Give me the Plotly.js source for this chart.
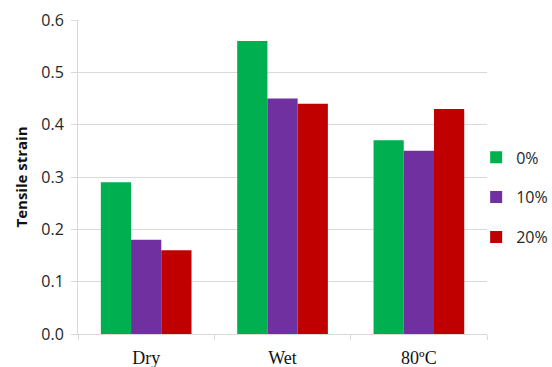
<!DOCTYPE html>
<html>
<head>
<meta charset="utf-8">
<script src="https://cdn.plot.ly/plotly-3.0.1.min.js"></script>
<style>html,body{margin:0;padding:0;background:#fff;}#chart{width:552px;height:367px;}</style>
</head>
<body>
<div id="chart"></div>
<script>
const categories = ["Dry", "Wet", "80\u00baC"];
const seriesNames = ["0%", "10%", "20%"];
const values0 = [0.29, 0.56, 0.37];
const values10 = [0.18, 0.45, 0.35];
const values20 = [0.16, 0.44, 0.43];
const yTicks = [0, 0.1, 0.2, 0.3, 0.4, 0.5, 0.6];
const yTickLabels = ["0.0", "0.1", "0.2", "0.3", "0.4", "0.5", "0.6"];
const colors = ["#00B050", "#7030A0", "#C00000"];

const allValues = [values0, values10, values20];
const data = allValues.map((v, i) => ({
  type: "bar",
  x: categories,
  y: v,
  name: seriesNames[i],
  legendgroup: "g" + i,
  marker: {color: colors[i], line: {width: 0}},
  hoverinfo: "skip"
}));

const sansFont = "'Open Sans', 'Noto Sans', sans-serif";

const layout = {
  width: 552,
  height: 367,
  margin: {l: 78, r: 0, t: 20, b: 33, autoexpand: false},
  paper_bgcolor: "#fff",
  plot_bgcolor: "#fff",
  barmode: "group",
  bargap: 0.335,
  bargroupgap: 0,
  showlegend: true,
  legend: {
    x: 0.84, xanchor: "left",
    y: 0.435, yanchor: "middle",
    traceorder: "grouped",
    tracegroupgap: 16,
    bgcolor: "rgba(0,0,0,0)",
    font: {family: sansFont, size: 16, color: "#262626"},
    itemwidth: 30
  },
  xaxis: {
    domain: [0, 0.863],
    type: "category",
    tickson: "boundaries",
    ticks: "outside",
    ticklen: 5,
    tickcolor: "#d9d9d9",
    showline: true,
    linecolor: "#d9d9d9",
    linewidth: 1,
    showgrid: false,
    automargin: false,
    ticklabelstandoff: 7,
    tickfont: {family: "'Liberation Serif', 'Times New Roman', serif", size: 18, color: "#111"},
    fixedrange: true
  },
  yaxis: {
    range: [0, 0.6],
    tickvals: yTicks,
    ticktext: yTickLabels,
    ticks: "outside",
    ticklen: 6,
    tickcolor: "#d9d9d9",
    showline: true,
    linecolor: "#d9d9d9",
    linewidth: 1,
    showgrid: true,
    gridcolor: "#d9d9d9",
    gridwidth: 1,
    zeroline: false,
    automargin: false,
    ticklabelstandoff: 4,
    tickfont: {family: sansFont, size: 16, color: "#262626"},
    title: {text: "<b>Tensile strain</b>", font: {family: sansFont, size: 15, color: "#111"}, standoff: 10},
    fixedrange: true
  }
};

Plotly.newPlot("chart", data, layout, {displayModeBar: false, staticPlot: true});
</script>
</body>
</html>
